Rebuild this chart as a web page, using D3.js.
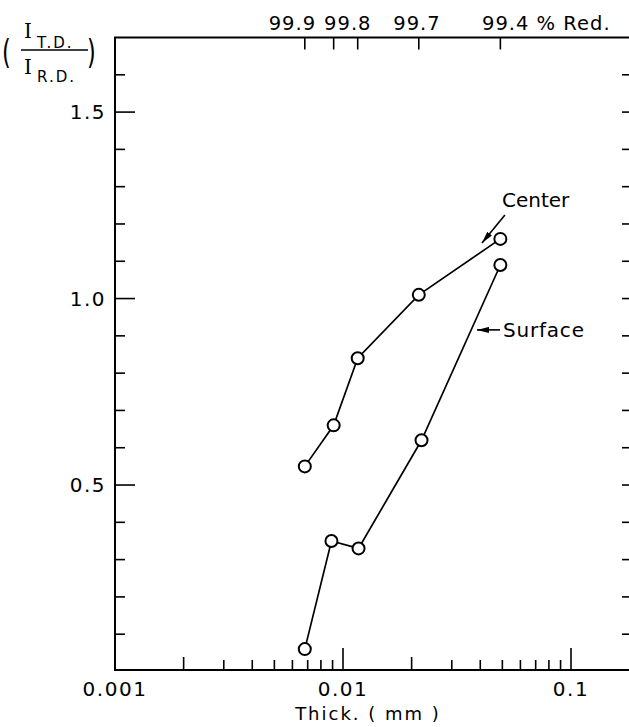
<!DOCTYPE html>
<html>
<head>
<meta charset="utf-8">
<script src="https://cdn.jsdelivr.net/npm/d3@7"></script>
<style>
  html, body { margin: 0; padding: 0; background: #fff; }
  svg { display: block; }
  text { font-family: "DejaVu Sans", sans-serif; fill: #000; }
  text.serif { font-family: "DejaVu Serif", "Liberation Serif", serif; }
</style>
</head>
<body>
<svg id="chart" width="629" height="727"></svg>
<script>
// Intensity ratio I(T.D.)/I(R.D.) versus foil thickness (mm)
const centerThick  = [0.0068, 0.0091, 0.0116, 0.0215, 0.049];
const centerRatio  = [0.55, 0.66, 0.84, 1.01, 1.16];
const surfaceThick = [0.0068, 0.0089, 0.0117, 0.0221, 0.049];
const surfaceRatio = [0.06, 0.35, 0.33, 0.62, 1.09];

// Top axis: reduction in thickness
const reductionTickAt  = [0.0068, 0.0091, 0.0116, 0.0215, 0.049];
const reductionLabels  = ["99.9", "99.8", "99.7", "99.4 % Red."];
const reductionLabelAt = [0.0060, 0.0105, 0.0211, 0.0407];

// Bottom and left axis labels
const xTickValues = [0.001, 0.01, 0.1];
const xTickLabels = ["0.001", "0.01", "0.1"];
const yTickValues = [0.5, 1.0, 1.5];
const yTickLabels = ["0.5", "1.0", "1.5"];

const svg = d3.select("#chart");
const W = 629;

const x = d3.scaleLog().domain([0.001, 0.18]).range([115, 629.2]);
const y = d3.scaleLinear().domain([0.004, 1.7]).range([670, 37.5]);

const xL = x(0.001), xR = x(0.18) + 1, yT = y(1.7), yB = y(0.004);

const g = svg.append("g");

// Frame
g.append("path")
  .attr("d", `M${xR},${yT} H${xL} V${yB} H${xR}`)
  .attr("fill", "none").attr("stroke", "#000").attr("stroke-width", 2);

// Bottom axis ticks (log decades with 2..9 subdivisions), pointing inward
const bottomTicks = [];
[0.001, 0.01, 0.1].forEach(dec => {
  for (let k = 1; k <= 9; k++) {
    const v = dec * k;
    if (v <= 0.18) bottomTicks.push({ v, len: k === 1 ? 22 : (k === 2 ? 13 : 10) });
  }
});
g.selectAll(".bt").data(bottomTicks).join("line")
  .attr("x1", d => x(d.v)).attr("x2", d => x(d.v))
  .attr("y1", yB).attr("y2", d => yB - d.len)
  .attr("stroke", "#000").attr("stroke-width", 1.6);

g.selectAll(".bl").data(xTickValues).join("text")
  .attr("x", d => x(d)).attr("y", yB + 26)
  .attr("text-anchor", "middle").attr("font-size", 20)
  .attr("letter-spacing", 1.5)
  .text((d, i) => xTickLabels[i]);

g.append("text")
  .attr("x", 368).attr("y", 720)
  .attr("text-anchor", "middle").attr("font-size", 18)
  .attr("letter-spacing", 2)
  .text("Thick. ( mm )");

// Left axis ticks every 0.1, labelled at 0.5 steps
const yMinor = d3.range(1, 17).map(i => i / 10);
g.selectAll(".lt").data(yMinor).join("line")
  .attr("x1", xL).attr("x2", d => xL + (Math.abs(d * 2 - Math.round(d * 2)) < 1e-6 ? 20 : 10))
  .attr("y1", d => y(d)).attr("y2", d => y(d))
  .attr("stroke", "#000").attr("stroke-width", 1.6);

g.selectAll(".ll").data(yTickValues).join("text")
  .attr("x", xL - 9).attr("y", d => y(d) + 7)
  .attr("text-anchor", "end").attr("font-size", 20)
  .attr("letter-spacing", 1.5)
  .text((d, i) => yTickLabels[i]);

// Right axis ticks, pointing inward
g.selectAll(".rt").data(yMinor).join("line")
  .attr("x1", W - 7).attr("x2", W)
  .attr("y1", d => y(d)).attr("y2", d => y(d))
  .attr("stroke", "#000").attr("stroke-width", 1.6);

// Top axis: reduction ticks and labels
g.selectAll(".tt").data(reductionTickAt).join("line")
  .attr("x1", d => x(d)).attr("x2", d => x(d))
  .attr("y1", yT).attr("y2", yT + 12)
  .attr("stroke", "#000").attr("stroke-width", 1.6);

g.selectAll(".tl").data(reductionLabels).join("text")
  .attr("x", (d, i) => x(reductionLabelAt[i]))
  .attr("y", 30)
  .attr("text-anchor", (d, i) => i === reductionLabels.length - 1 ? "start" : "middle")
  .attr("font-size", 19.5).attr("letter-spacing", 1)
  .text(d => d);

// Y-axis quantity: (I_T.D. / I_R.D.)
const yl = g.append("g");
yl.append("text").attr("x", 2).attr("y", 64).attr("font-size", 30)
  .attr("transform", "translate(2,64) scale(0.75,1.15) translate(-2,-64)").text("(");
yl.append("text").attr("x", 87).attr("y", 64).attr("font-size", 30)
  .attr("transform", "translate(87,64) scale(0.75,1.15) translate(-87,-64)").text(")");
yl.append("text").attr("class", "serif").attr("x", 24).attr("y", 38).attr("font-size", 20).text("I");
yl.append("text").attr("x", 37).attr("y", 48).attr("font-size", 15)
  .attr("letter-spacing", 2).text("T.D.");
yl.append("line").attr("x1", 21).attr("x2", 88).attr("y1", 50).attr("y2", 50)
  .attr("stroke", "#000").attr("stroke-width", 1.6);
yl.append("text").attr("class", "serif").attr("x", 24).attr("y", 74).attr("font-size", 20).text("I");
yl.append("text").attr("x", 37).attr("y", 82).attr("font-size", 15)
  .attr("letter-spacing", 2).text("R.D.");

// Series
const series = [
  { name: "Center",  xs: centerThick,  ys: centerRatio },
  { name: "Surface", xs: surfaceThick, ys: surfaceRatio }
];
const line = d3.line().x(d => x(d[0])).y(d => y(d[1]));

series.forEach(s => {
  const pts = s.xs.map((v, i) => [v, s.ys[i]]);
  g.append("path").datum(pts).attr("d", line)
    .attr("fill", "none").attr("stroke", "#000").attr("stroke-width", 1.7);
  g.selectAll(null).data(pts).join("circle")
    .attr("cx", d => x(d[0])).attr("cy", d => y(d[1])).attr("r", 6)
    .attr("fill", "#fff").attr("stroke", "#000").attr("stroke-width", 2);
});

// Annotations with arrows
const defs = svg.append("defs");
defs.append("marker").attr("id", "ah").attr("viewBox", "0 0 12 6")
  .attr("refX", 12).attr("refY", 3).attr("markerWidth", 12).attr("markerHeight", 6)
  .attr("markerUnits", "userSpaceOnUse").attr("orient", "auto")
  .append("path").attr("d", "M0,0 L12,3 L0,6 Z").attr("fill", "#000");

g.append("text").attr("x", x(0.0498)).attr("y", y(1.2456))
  .attr("font-size", 20).text("Center");
g.append("line")
  .attr("x1", x(0.0513)).attr("y1", y(1.224))
  .attr("x2", x(0.0407)).attr("y2", y(1.149))
  .attr("stroke", "#000").attr("stroke-width", 1.6).attr("marker-end", "url(#ah)");

g.append("text").attr("x", x(0.0503)).attr("y", y(0.897))
  .attr("font-size", 20).attr("letter-spacing", 0.8).text("Surface");
g.append("line")
  .attr("x1", x(0.0488)).attr("y1", y(0.916))
  .attr("x2", x(0.0387)).attr("y2", y(0.916))
  .attr("stroke", "#000").attr("stroke-width", 1.6).attr("marker-end", "url(#ah)");
</script>
</body>
</html>
